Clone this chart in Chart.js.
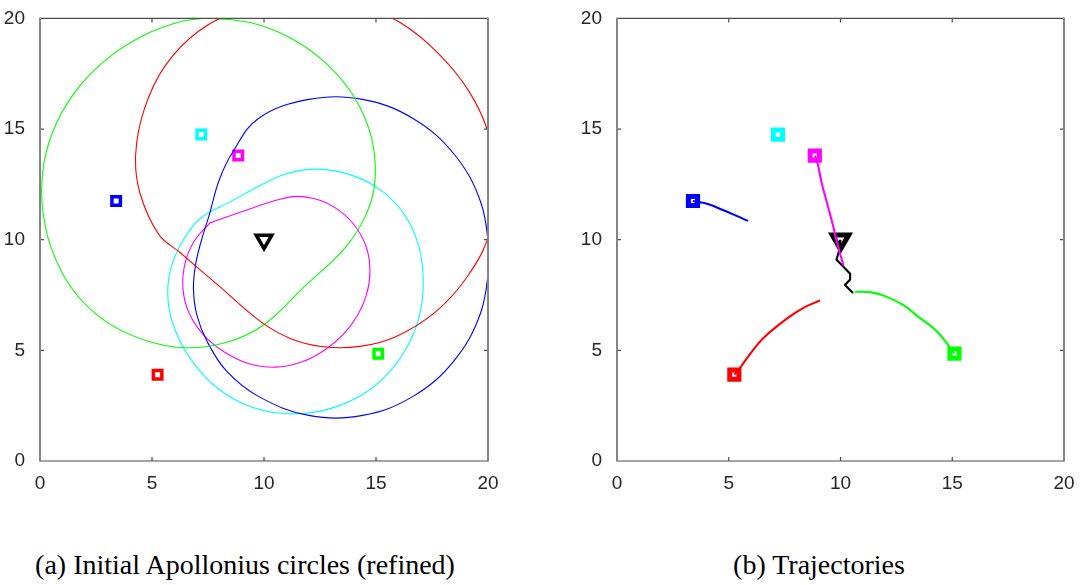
<!DOCTYPE html>
<html>
<head>
<meta charset="utf-8">
<script src="https://cdn.jsdelivr.net/npm/chart.js@4.4.1/dist/chart.umd.min.js"></script>
<style>
  html, body { margin: 0; padding: 0; background: #fff; }
  body { width: 1081px; height: 585px; position: relative; overflow: hidden; }
  .panel { position: absolute; top: 0; }
  .cap {
    position: absolute; top: 551px; line-height: 28px;
    font-family: "Liberation Serif", "Times New Roman", serif; font-size: 28px;
    color: #000; white-space: nowrap; transform: translateX(-50%);
  }
</style>
</head>
<body>
<div class="panel" style="left:0px"><canvas id="panelA" width="520" height="500"></canvas></div>
<div class="panel" style="left:577px"><canvas id="panelB" width="504" height="500"></canvas></div>
<div class="cap" style="left:245px">(a) Initial Apollonius circles (refined)</div>
<div class="cap" style="left:819px">(b) Trajectories</div>

<script>
// Axis range and tick spacing shared by both panels
const axisMin = 0;
const axisMax = 20;
const tickStep = 5;

// Pursuer start positions [x, y]
const startBlue    = [[3.4, 11.75]];
const startCyan    = [[7.2, 14.75]];
const startMagenta = [[8.85, 13.8]];
const startRed     = [[5.25, 3.9]];
const startGreen   = [[15.1, 4.85]];
// Evader start position
const startEvader  = [[10.0, 10.0]];

// Refined Apollonius boundaries, one closed curve per pursuer
const curveRed = [
  [11.9, 20.95], [14.09, 20.66], [16.11, 19.79], [17.8, 18.4], [19.16, 16.69], [20.06, 14.69],
  [20.38, 12.5], [20.08, 10.31], [19.09, 8.35], [17.66, 6.74], [15.88, 5.62], [14.28, 5.18],
  [12.67, 5.16], [11.17, 5.54], [9.82, 6.32], [8.0, 7.9], [6.25, 9.42], [5.3, 10.24],
  [4.46, 12.11], [4.27, 13.85], [4.65, 15.88], [5.56, 17.82], [7.06, 19.41], [9.02, 20.41],
  [11.9, 20.95]
];
const curveGreen = [
  [7.5, 20.02], [9.43, 19.8], [11.24, 19.08], [12.82, 17.92], [14.06, 16.39], [14.81, 14.56],
  [14.95, 12.6], [14.54, 11.1], [13.6, 9.61], [11.8, 7.88], [10.0, 6.16], [8.26, 5.34],
  [6.45, 5.12], [4.62, 5.48], [2.82, 6.39], [1.4, 7.83], [0.5, 9.63], [0.1, 11.56],
  [0.18, 13.5], [0.76, 15.32], [1.76, 16.93], [3.09, 18.25], [4.68, 19.26], [6.22, 19.84],
  [7.5, 20.02]
];
const curveBlue = [
  [20.1, 9.2], [19.68, 6.72], [18.49, 4.54], [16.65, 2.92], [14.4, 2.06], [12.0, 2.06],
  [9.75, 2.92], [8.32, 4.07], [7.46, 5.4], [7.0, 6.6], [6.85, 7.8], [6.95, 8.9],
  [7.2, 9.95], [7.55, 11.1], [8.0, 12.7], [8.6, 13.95], [9.75, 15.48], [12.0, 16.34],
  [14.4, 16.34], [16.65, 15.48], [18.49, 13.86], [19.68, 11.68], [20.1, 9.2]
];
const curveCyan = [
  [9.82, 12.45], [11.03, 12.99], [12.37, 13.19], [13.84, 12.94], [15.21, 12.24], [16.28, 11.12],
  [16.91, 9.7], [17.11, 8.2], [16.97, 6.72], [16.48, 5.33], [15.67, 4.11], [14.6, 3.14],
  [13.3, 2.48], [11.88, 2.16], [10.43, 2.19], [9.03, 2.61], [7.79, 3.4], [6.81, 4.49],
  [6.09, 5.77], [5.72, 7.2], [5.83, 8.68], [6.42, 10.02], [7.19, 10.99], [8.5, 11.72],
  [9.82, 12.45]
];
const curveMagenta = [
  [7.59, 10.76], [9.1, 11.3], [10.58, 11.79], [11.46, 11.96], [12.46, 11.79], [13.38, 11.3],
  [14.12, 10.54], [14.59, 9.59], [14.73, 8.54], [14.58, 7.53], [14.19, 6.61], [13.54, 5.72],
  [12.68, 4.99], [11.68, 4.47], [10.5, 4.24], [9.3, 4.41], [8.21, 4.94], [7.31, 5.69],
  [6.65, 6.7], [6.38, 7.81], [6.48, 8.95], [6.89, 9.94], [7.59, 10.76]
];

// Trajectories of every agent
const pathBlue    = [[3.4, 11.75], [4.1, 11.6], [4.74, 11.34], [5.3, 11.1], [5.86, 10.85]];
const pathMagenta = [[8.85, 13.8], [8.95, 13.57], [9.15, 12.6], [9.4, 11.65], [9.65, 10.7], [9.84, 9.9], [10.0, 9.3], [10.13, 8.84]];
const pathEvader  = [[10.0, 10.0], [9.98, 9.64], [9.82, 9.1], [10.11, 8.8], [10.43, 8.46], [10.43, 8.2], [10.2, 7.95], [10.56, 7.59]];
const pathGreen   = [[15.1, 4.85], [14.32, 5.85], [13.5, 6.5], [12.8, 7.05], [12.0, 7.45], [11.32, 7.63], [10.65, 7.65]];
const pathRed     = [[5.25, 3.9], [5.5, 4.2], [6.0, 4.9], [6.53, 5.54], [7.6, 6.43], [8.4, 6.95], [9.08, 7.25]];

const toXY = arr => arr.map(p => ({ x: p[0], y: p[1] }));

const C = { red: '#ff0000', green: '#00ff00', blue: '#0000ff', cyan: '#00ffff', magenta: '#ff00ff', black: '#000000' };

function curve(data, color, width, tension) {
  return {
    type: 'line', data: toXY(data), borderColor: color, borderWidth: width,
    pointRadius: 0, tension: tension, fill: false, clip: 0, order: 2
  };
}
function marker(data, color, r, bw, style, rot) {
  return {
    type: 'scatter', data: toXY(data), showLine: false,
    pointStyle: style || 'rect', rotation: rot || 0,
    pointRadius: r, pointHoverRadius: r, pointBorderWidth: bw,
    pointBorderColor: color, pointBackgroundColor: '#ffffff', order: 3
  };
}

// Box frame with inward tick marks, drawn from the scales
const frame = {
  id: 'frame',
  afterDatasetsDraw(chart) {
    const { ctx, chartArea: a, scales: { x, y } } = chart;
    ctx.save();
    ctx.lineCap = 'butt';
    ctx.strokeStyle = '#4d4d4d';
    ctx.lineWidth = 1.2;
    ctx.beginPath();
    ctx.moveTo(a.left, a.top); ctx.lineTo(a.right, a.top);
    ctx.moveTo(a.left, a.bottom); ctx.lineTo(a.right, a.bottom);
    x.ticks.forEach(t => {
      const px = x.getPixelForValue(t.value);
      ctx.moveTo(px, a.bottom); ctx.lineTo(px, a.bottom - 4);
      ctx.moveTo(px, a.top); ctx.lineTo(px, a.top + 4);
    });
    y.ticks.forEach(t => {
      const py = y.getPixelForValue(t.value);
      ctx.moveTo(a.left, py); ctx.lineTo(a.left + 4, py);
      ctx.moveTo(a.right, py); ctx.lineTo(a.right - 4, py);
    });
    ctx.stroke();
    ctx.strokeStyle = '#858585';
    ctx.lineWidth = 2;
    ctx.beginPath();
    ctx.moveTo(a.left, a.top - 0.6); ctx.lineTo(a.left, a.bottom + 0.6);
    ctx.moveTo(a.right, a.top - 0.6); ctx.lineTo(a.right, a.bottom + 0.6);
    ctx.stroke();
    ctx.restore();
  }
};

function axes() {
  const tickFont = { family: '"Liberation Sans", Arial, sans-serif', size: 19 };
  return {
    x: {
      type: 'linear', min: axisMin, max: axisMax, position: 'bottom',
      ticks: { stepSize: tickStep, font: tickFont, color: '#262626', padding: 3, maxRotation: 0 },
      grid: { display: false }, border: { display: false },
      afterFit: s => { s.height = 39; }
    },
    y: {
      type: 'linear', min: axisMin, max: axisMax, position: 'left',
      ticks: { stepSize: tickStep, font: tickFont, color: '#262626', padding: 7 },
      grid: { display: false }, border: { display: false },
      afterFit: s => { s.width = 40; }
    }
  };
}

function baseOptions(rightPad) {
  return {
    responsive: false, animation: false, devicePixelRatio: 1,
    layout: { padding: { left: 0, top: 13, right: rightPad, bottom: 0 } },
    plugins: { legend: { display: false }, tooltip: { enabled: false } },
    elements: { line: { capBezierPoints: false } },
    events: [],
    scales: axes()
  };
}

new Chart(document.getElementById('panelA'), {
  type: 'scatter',
  data: {
    datasets: [
      marker(startBlue, C.blue, 6, 3.5),
      marker(startCyan, C.cyan, 6, 3.5),
      marker(startMagenta, C.magenta, 6, 3.5),
      marker(startRed, C.red, 6, 3.5),
      marker(startGreen, C.green, 6, 3.5),
      marker(startEvader, C.black, 9, 3.5, 'triangle', 180),
      curve(curveRed, C.red, 1.1, 0.38),
      curve(curveGreen, C.green, 1.1, 0.38),
      curve(curveBlue, C.blue, 1.1, 0.38),
      curve(curveCyan, C.cyan, 1.1, 0.38),
      curve(curveMagenta, C.magenta, 1.1, 0.38)
    ]
  },
  options: baseOptions(32),
  plugins: [frame]
});

function trajectory(data, color, tension) {
  const d = curve(data, color, 2.1, tension);
  d.order = 1;
  return d;
}

new Chart(document.getElementById('panelB'), {
  type: 'scatter',
  data: {
    datasets: [
      trajectory(pathBlue, C.blue, 0.4),
      trajectory(pathMagenta, C.magenta, 0.4),
      trajectory(pathEvader, C.black, 0),
      trajectory(pathGreen, C.green, 0.4),
      trajectory(pathRed, C.red, 0.4),
      marker(startBlue, C.blue, 6.5, 5),
      marker(startCyan, C.cyan, 6.5, 5),
      marker(startMagenta, C.magenta, 6.5, 5),
      marker(startRed, C.red, 6.5, 5),
      marker(startGreen, C.green, 6.5, 5),
      marker(startEvader, C.black, 9.5, 5, 'triangle', 180)
    ]
  },
  options: baseOptions(17),
  plugins: [frame]
});
</script>
</body>
</html>
